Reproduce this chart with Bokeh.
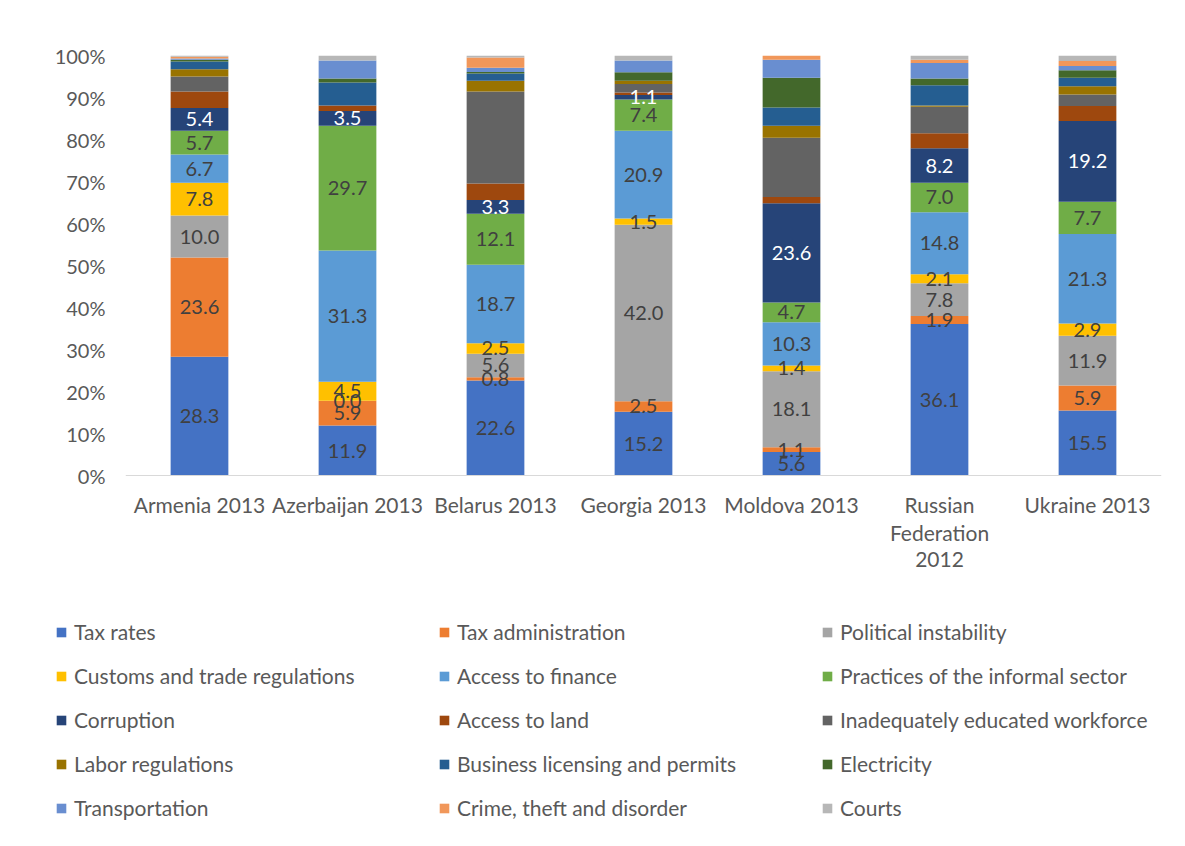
from bokeh.plotting import figure
from bokeh.layouts import column
from bokeh.models import (ColumnDataSource, Legend, LegendItem, FactorRange,
                          Range1d, FixedTicker, PrintfTickFormatter, Span)
from bokeh.embed import file_html
from bokeh.resources import INLINE
from bokeh.core.properties import value

countries = ["Armenia 2013", "Azerbaijan 2013", "Belarus 2013", "Georgia 2013",
             "Moldova 2013", "Russian Federation 2012", "Ukraine 2013"]
tick_labels = ["Armenia 2013", "Azerbaijan 2013", "Belarus 2013", "Georgia 2013",
               "Moldova 2013", "Russian\nFederation\n2012", "Ukraine 2013"]

tax_rates = [28.3, 11.9, 22.6, 15.2, 5.6, 36.1, 15.5]
tax_admin = [23.6, 5.9, 0.8, 2.5, 1.1, 1.9, 5.9]
political = [10.0, 0.0, 5.6, 42.0, 18.1, 7.8, 11.9]
customs = [7.8, 4.5, 2.5, 1.5, 1.4, 2.1, 2.9]
finance = [6.7, 31.3, 18.7, 20.9, 10.3, 14.8, 21.3]
informal = [5.7, 29.7, 12.1, 7.4, 4.7, 7.0, 7.7]
corruption = [5.4, 3.5, 3.3, 1.1, 23.6, 8.2, 19.2]
land = [3.9, 1.3, 3.9, 0.6, 1.5, 3.6, 3.6]
educated = [3.6, 0.0, 21.9, 2.0, 14.1, 6.3, 2.7]
labor = [1.7, 0.0, 2.6, 0.8, 2.9, 0.3, 2.0]
licensing = [1.9, 5.5, 1.7, 0.0, 4.3, 4.8, 2.0]
electricity = [0.4, 0.9, 0.4, 2.0, 7.1, 1.6, 1.8]
transport = [0.3, 4.3, 1.0, 2.8, 4.3, 3.7, 1.0]
crime = [0.4, 0.0, 2.4, 0.0, 1.0, 0.8, 1.2]
courts = [0.3, 1.2, 0.5, 1.2, 0.0, 1.0, 1.3]

y_ticks = [0, 10, 20, 30, 40, 50, 60, 70, 80, 90, 100]

series_names = ["Tax rates", "Tax administration", "Political instability",
                "Customs and trade regulations", "Access to finance",
                "Practices of the informal sector", "Corruption", "Access to land",
                "Inadequately educated workforce", "Labor regulations",
                "Business licensing and permits", "Electricity", "Transportation",
                "Crime, theft and disorder", "Courts"]
series_values = [tax_rates, tax_admin, political, customs, finance, informal,
                 corruption, land, educated, labor, licensing, electricity,
                 transport, crime, courts]
colors = ["#4472C4", "#ED7D31", "#A5A5A5", "#FFC000", "#5B9BD5", "#70AD47",
          "#264478", "#9E480E", "#636363", "#997300", "#255E91", "#43682B",
          "#698ED0", "#F1975A", "#B7B7B7"]
labeled = 7
label_colors = ["#404040"] * 6 + ["#FFFFFF"]

FONT = "Lato"
TXT = "#595959"

# ---------------- chart ----------------
TOP_H = 600
FRAME_TOP = 55
PX_PER_UNIT = 4.2  # 420 px frame for 0..100
y_low = -(TOP_H - FRAME_TOP - 420) / PX_PER_UNIT

keys = ["s%d" % i for i in range(len(series_names))]
data = {"country": countries}
for k, v in zip(keys, series_values):
    data[k] = v
source = ColumnDataSource(data)

p = figure(x_range=FactorRange(*countries), y_range=Range1d(y_low, 100),
           width=1185, height=TOP_H, output_backend="svg", toolbar_location=None,
           min_border_left=125, min_border_right=24, min_border_top=FRAME_TOP,
           min_border_bottom=0)
p.frame_align = False
p.outline_line_color = None
p.xgrid.grid_line_color = None
p.ygrid.grid_line_color = None
p.xaxis.visible = False

renderers = p.vbar_stack(keys, x="country", width=0.39, color=colors,
                         line_color=None, source=source)

# category axis baseline
p.add_layout(Span(location=0, dimension="width", line_color="#D9D9D9",
                  line_width=1))

# data labels
bottoms = [0.0] * len(countries)
for i, vals in enumerate(series_values):
    if i < labeled:
        centers = [b + v / 2.0 for b, v in zip(bottoms, vals)]
        texts = ["%.1f" % v for v in vals]
        lsrc = ColumnDataSource(dict(x=countries, y=centers, t=texts))
        p.text(x="x", y="y", text="t", source=lsrc, text_align="center",
               text_baseline="middle", text_font=value(FONT),
               text_font_size="20px", text_color=label_colors[i])
    bottoms = [b + v for b, v in zip(bottoms, vals)]

# category labels (multi-line)
cx, cy, ct, co = [], [], [], []
for c, t in zip(countries, tick_labels):
    for k, line in enumerate(t.split("\n")):
        cx.append(c)
        cy.append(0)
        ct.append(line)
        co.append(29 + 27.5 * k)
p.text(x="x", y="y", text="t", y_offset="o",
       source=ColumnDataSource(dict(x=cx, y=cy, t=ct, o=co)),
       text_align="center", text_baseline="middle", text_font=value(FONT),
       text_font_size="21px", text_color=TXT)

p.yaxis.axis_line_color = None
p.yaxis.major_tick_line_color = None
p.yaxis.minor_tick_line_color = None
p.yaxis.major_tick_out = 0
p.yaxis.major_tick_in = 0
p.yaxis.ticker = FixedTicker(ticks=y_ticks)
p.yaxis.formatter = PrintfTickFormatter(format="%d%%")
p.yaxis.major_label_text_font = FONT
p.yaxis.major_label_text_font_size = "20px"
p.yaxis.major_label_text_color = TXT
p.yaxis.major_label_standoff = 20

# ---------------- legend ----------------
LEG_H = 846 - TOP_H
q = figure(width=1185, height=LEG_H, output_backend="svg", toolbar_location=None,
           x_range=Range1d(0, 1), y_range=Range1d(0, 1),
           x_axis_type=None, y_axis_type=None,
           min_border_left=0, min_border_right=0, min_border_top=0,
           min_border_bottom=0)
q.frame_align = False
q.outline_line_color = None
q.xgrid.grid_line_color = None
q.ygrid.grid_line_color = None

# zero-size proxies that only carry the legend swatch colours
proxies = [q.vbar(x=[0.5], top=[0], bottom=[0], width=0, color=c, line_color=None)
           for c in colors]
items = [LegendItem(label=n, renderers=[r]) for n, r in zip(series_names, proxies)]
legend = Legend(items=items, ncols=3, orientation="horizontal",
                location=(55, 26), padding=0, margin=0,
                border_line_color=None, background_fill_alpha=0,
                glyph_width=12, glyph_height=12, label_standoff=7,
                label_width=345, label_height=22, spacing=19,
                label_text_font=FONT, label_text_font_size="21px",
                label_text_color=TXT)
q.add_layout(legend)

open("out.html", "w").write(file_html(column(p, q, spacing=0), INLINE))
